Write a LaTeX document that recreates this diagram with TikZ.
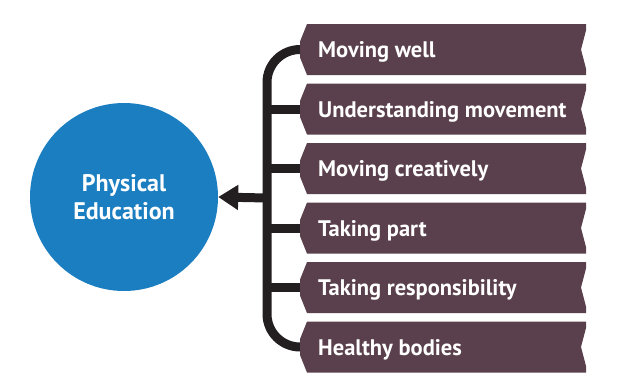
\documentclass[tikz,border=0pt]{standalone}
\usepackage{fontspec}
\setmainfont{PT Sans}
\usetikzlibrary{arrows.meta}
\definecolor{plum}{HTML}{5A404C}
\definecolor{peblue}{HTML}{1A7EC1}
\definecolor{barblack}{HTML}{231F20}
\tikzset{
  conn/.style={draw=barblack, line width=9pt},
  bannerfill/.style={fill=plum},
  bannertext/.style={text=white, font=\bfseries\fontsize{22.5}{26}\selectfont, anchor=base west, inner sep=0pt},
  pecircle/.style={circle, fill=peblue, minimum size=188pt, inner sep=0pt, text=white, align=center, font=\bfseries\fontsize{24}{28.5}\selectfont}
}
\newcommand{\bannershape}[1]{%
  \fill[bannerfill] (307,#1-25.5) -- (586,#1-25.5) -- (586,#1-19) -- (581,#1) -- (586,#1+19) -- (586,#1+25.5)
    -- (307,#1+25.5) -- (300,#1+8) -- (300,#1-8) -- cycle;}
\begin{document}
\begin{tikzpicture}[x=1pt,y=-1pt]
\useasboundingbox (0,0) rectangle (641,389);
% circle
\node[pecircle] (pe) at (124,197) {Physical\\Education};
% connector coordinates
\foreach \i/\y in {1/49.5,2/109,3/168.5,4/228,5/287.5,6/347}{
  \coordinate (p\i) at (304,\y);
  \coordinate (j\i) at (267,\y);
}
\coordinate (jm) at (267,198);
% bar with rounded ends
\draw[conn, rounded corners=33pt] (p1) -| (jm) |- (p6);
\foreach \i in {2,3,4,5}{ \draw[conn] (j\i) -- (p\i); }
% arrow to circle
\draw[conn, -{Triangle[length=20pt,width=24pt]}] (jm) -- (pe.east);
% banners
\bannershape{49.5}
\bannershape{109}
\bannershape{168.5}
\bannershape{228}
\bannershape{287.5}
\bannershape{347}
\node[bannertext] (b1) at (318,57.5) {Moving well};
\node[bannertext] (b2) at (318,117) {Understanding movement};
\node[bannertext] (b3) at (318,176.5) {Moving creatively};
\node[bannertext] (b4) at (318,236) {Taking part};
\node[bannertext] (b5) at (318,295.5) {Taking responsibility};
\node[bannertext] (b6) at (318,355) {Healthy bodies};
\end{tikzpicture}
\end{document}
